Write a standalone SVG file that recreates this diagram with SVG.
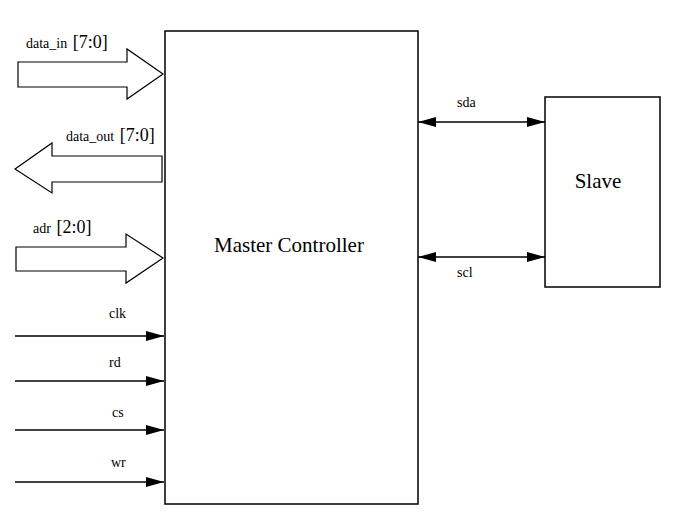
<svg xmlns="http://www.w3.org/2000/svg" width="675" height="529" viewBox="0 0 675 529">
<style>
.box{fill:#fff;stroke:#000;stroke-width:1.5}
.bus{fill:#fff;stroke:#000;stroke-width:1.2}
.ln{stroke:#000;stroke-width:1.5;fill:none}
text{font-family:'Liberation Serif','Times New Roman','DejaVu Serif',serif;fill:#000}
.t{font-size:14px}
.b{font-size:21px}
.n{font-size:21px}
</style>
<defs>
<marker id="ah" viewBox="0 0 18 10" refX="18" refY="5" markerWidth="18" markerHeight="10" markerUnits="userSpaceOnUse" orient="auto-start-reverse">
<path d="M0,0 L18,5 L0,10 Z" fill="#000"/>
</marker>
</defs>
<rect width="675" height="529" fill="#fff"/>
<g id="master">
<rect class="box" x="165" y="31" width="253" height="473"/>
<text class="b" x="289" y="252" text-anchor="middle">Master Controller</text>
</g>
<g id="slave">
<rect class="box" x="545" y="97" width="115" height="190"/>
<text class="n" x="598" y="188" text-anchor="middle">Slave</text>
</g>
<g id="data_in">
<path class="bus" d="M18,62 L127,62 L127,49 L163,74 L127,99 L127,87 L18,87 Z"/>
<text class="t" x="26" y="48">data_in <tspan font-size="18px" dx="2">[7:0]</tspan></text>
</g>
<g id="data_out">
<path class="bus" d="M162,156 L52,156 L52,143 L15,169 L52,193 L52,182 L162,182 Z"/>
<text class="t" x="66" y="141">data_out <tspan font-size="18px" dx="2">[7:0]</tspan></text>
</g>
<g id="adr">
<path class="bus" d="M16,247 L126,247 L126,234 L163,258 L126,283 L126,271 L16,271 Z"/>
<text class="t" x="33" y="233">adr <tspan font-size="18px" dx="2">[2:0]</tspan></text>
</g>
<g id="connectors">
<line class="ln" x1="15" y1="336" x2="164" y2="336" marker-end="url(#ah)"/>
<line class="ln" x1="15" y1="381" x2="164" y2="381" marker-end="url(#ah)"/>
<line class="ln" x1="15" y1="430" x2="164" y2="430" marker-end="url(#ah)"/>
<line class="ln" x1="15" y1="482" x2="164" y2="482" marker-end="url(#ah)"/>
<line class="ln" x1="418" y1="122" x2="545" y2="122" marker-start="url(#ah)" marker-end="url(#ah)"/>
<line class="ln" x1="418" y1="257" x2="545" y2="257" marker-start="url(#ah)" marker-end="url(#ah)"/>
</g>
<g id="labels">
<text class="t" x="109" y="318">clk</text>
<text class="t" x="109" y="367">rd</text>
<text class="t" x="112" y="417">cs</text>
<text class="t" x="111" y="467">wr</text>
<text class="t" x="457" y="107">sda</text>
<text class="t" x="457" y="277">scl</text>
</g>
</svg>
